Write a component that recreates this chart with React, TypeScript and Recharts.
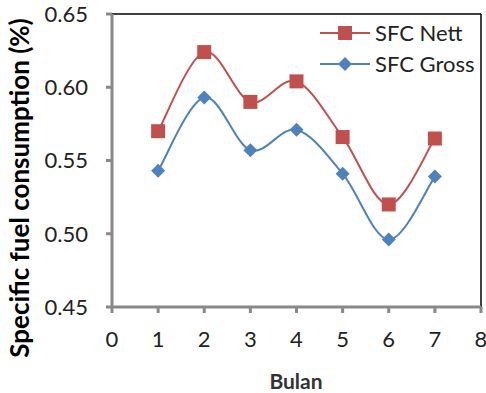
import React from "react"
import { LineChart, Line, XAxis, YAxis, ReferenceLine, Label } from "recharts"

const months = [1, 2, 3, 4, 5, 6, 7]
const sfcNett = [0.57, 0.624, 0.59, 0.604, 0.566, 0.52, 0.565]
const sfcGross = [0.543, 0.593, 0.557, 0.571, 0.541, 0.496, 0.539]
const xTicks = [0, 1, 2, 3, 4, 5, 6, 7, 8]
const yTicks = [0.45, 0.5, 0.55, 0.6, 0.65]

const data = months.map((m, i) => ({ bulan: m, nett: sfcNett[i], gross: sfcGross[i] }))

const RED = "#C0504D"
const BLUE = "#4F81BD"
const AXIS = "#898989"
const FONT = "Lato, 'Open Sans', sans-serif"

// excel-like smoothed line (catmull-rom through the points)
const excelSmooth = (context: any) => {
  let pts: [number, number][] = []
  return {
    areaStart() {},
    areaEnd() {},
    lineStart() {
      pts = []
    },
    lineEnd() {
      if (!pts.length) return
      context.moveTo(pts[0][0], pts[0][1])
      for (let i = 0; i < pts.length - 1; i++) {
        const p0 = pts[Math.max(i - 1, 0)]
        const p1 = pts[i]
        const p2 = pts[i + 1]
        const p3 = pts[Math.min(i + 2, pts.length - 1)]
        context.bezierCurveTo(
          p1[0] + (p2[0] - p0[0]) / 6,
          p1[1] + (p2[1] - p0[1]) / 6,
          p2[0] - (p3[0] - p1[0]) / 6,
          p2[1] - (p3[1] - p1[1]) / 6,
          p2[0],
          p2[1]
        )
      }
    },
    point(x: number, y: number) {
      pts.push([x, y])
    },
  }
}

const SquareDot = (props: any) => {
  const { cx, cy } = props
  if (cx == null || cy == null) return null
  return <rect x={cx - 7} y={cy - 7} width={14} height={14} fill={RED} />
}

const DiamondDot = (props: any) => {
  const { cx, cy } = props
  if (cx == null || cy == null) return null
  const r = 7
  return <path d={`M${cx},${cy - r}L${cx + r},${cy}L${cx},${cy + r}L${cx - r},${cy}Z`} fill={BLUE} />
}

const LegendBox = () => (
  <svg width={180} height={70} style={{ position: "absolute", left: 300, top: 17, fontFamily: FONT }}>
    <line x1={20} y1={16} x2={70} y2={16} stroke={RED} strokeWidth={2} />
    <rect x={38} y={9} width={14} height={14} fill={RED} />
    <text x={75} y={16} dy="0.35em" fontSize={22} fill="#222">SFC Nett</text>
    <line x1={20} y1={47} x2={70} y2={47} stroke={BLUE} strokeWidth={2} />
    <path d="M45,40L52,47L45,54L38,47Z" fill={BLUE} />
    <text x={75} y={47} dy="0.35em" fontSize={22} fill="#222">SFC Gross</text>
  </svg>
)

const YTitle = () => (
  <text
    x={19}
    y={188}
    transform="rotate(-90 19 188)"
    textAnchor="middle"
    dominantBaseline="central"
    fontFamily={FONT}
    fontWeight="bold"
    fontSize={26}
    fill="#000"
  >
    Specific fuel consumption (%)
  </text>
)

const XTitle = () => (
  <text x={296} y={380} textAnchor="middle" dominantBaseline="central" fontFamily={FONT} fontWeight="bold" fontSize={21} fill="#333">
    Bulan
  </text>
)

export default function App() {
  const tickStyle = { fontSize: 22, fill: "#222", fontFamily: FONT }
  return (
    <div style={{ position: "absolute", left: 0, top: 0, width: 486, height: 393, background: "#fff" }}>
      <LineChart width={486} height={393} data={data} margin={{ top: 14, right: 5, bottom: 0, left: 0 }}>
        <XAxis
          dataKey="bulan"
          type="number"
          domain={[0, 8]}
          ticks={xTicks}
          interval={0}
          height={86}
          axisLine={{ stroke: AXIS, strokeWidth: 3 }}
          tickLine={{ stroke: AXIS, strokeWidth: 3 }}
          tickSize={6}
          tickMargin={18}
          tick={tickStyle}
        >
          <Label content={() => <XTitle />} />
        </XAxis>
        <YAxis
          type="number"
          domain={[0.45, 0.65]}
          ticks={yTicks}
          interval={0}
          width={112}
          tickFormatter={(v: number) => v.toFixed(2)}
          axisLine={{ stroke: AXIS, strokeWidth: 3 }}
          tickLine={{ stroke: AXIS, strokeWidth: 3 }}
          tickSize={6}
          tickMargin={18}
          tick={tickStyle}
        >
          <Label content={() => <YTitle />} />
        </YAxis>
        <ReferenceLine y={0.65} stroke="#000" strokeWidth={1.5} />
        <ReferenceLine x={8} stroke="#000" strokeWidth={1.5} />
        <Line
          dataKey="nett"
          name="SFC Nett"
          type={excelSmooth as any}
          stroke={RED}
          strokeWidth={2}
          dot={<SquareDot />}
          activeDot={false}
          isAnimationActive={false}
        />
        <Line
          dataKey="gross"
          name="SFC Gross"
          type={excelSmooth as any}
          stroke={BLUE}
          strokeWidth={2}
          dot={<DiamondDot />}
          activeDot={false}
          isAnimationActive={false}
        />
      </LineChart>
      <LegendBox />
    </div>
  )
}
